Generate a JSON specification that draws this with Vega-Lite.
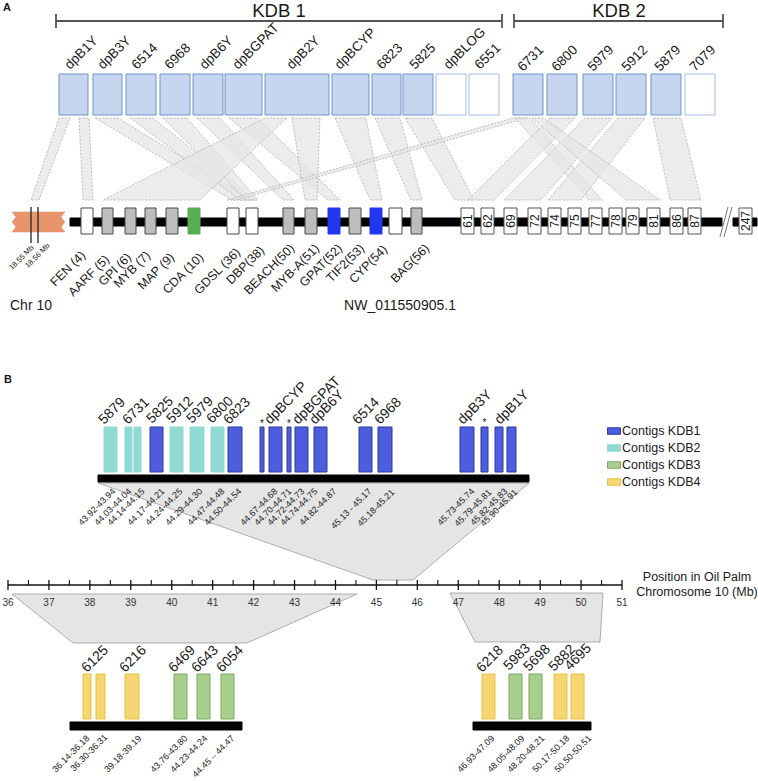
{
  "$schema": "https://vega.github.io/schema/vega-lite/v6.json",
  "width": 758,
  "height": 783,
  "autosize": {"type": "none"},
  "padding": 0,
  "background": "white",
  "config": {
    "view": {"stroke": null},
    "text": {"font": "Liberation Sans", "color": "#1a1a1a"}
  },
  "resolve": {"scale": {"x": "independent", "fill": "independent", "stroke": "independent", "strokeWidth": "independent"}},
  "datasets": {
    "bands": [
      {"band": "r1", "panel": "A", "y": 118, "xl": 59, "xr": 70}, {"band": "r1", "panel": "A", "y": 200, "xl": 31, "xr": 39},
      {"band": "r2", "panel": "A", "y": 118, "xl": 79, "xr": 89}, {"band": "r2", "panel": "A", "y": 200, "xl": 83, "xr": 93},
      {"band": "r3", "panel": "A", "y": 118, "xl": 95, "xr": 118}, {"band": "r3", "panel": "A", "y": 200, "xl": 232, "xr": 252},
      {"band": "r4", "panel": "A", "y": 118, "xl": 130, "xr": 153}, {"band": "r4", "panel": "A", "y": 200, "xl": 240, "xr": 256},
      {"band": "r5", "panel": "A", "y": 118, "xl": 163, "xr": 187}, {"band": "r5", "panel": "A", "y": 200, "xl": 246, "xr": 258},
      {"band": "r6", "panel": "A", "y": 118, "xl": 197, "xr": 220}, {"band": "r6", "panel": "A", "y": 200, "xl": 283, "xr": 294},
      {"band": "r7", "panel": "A", "y": 118, "xl": 229, "xr": 258}, {"band": "r7", "panel": "A", "y": 200, "xl": 328, "xr": 340},
      {"band": "r8", "panel": "A", "y": 118, "xl": 265, "xr": 287}, {"band": "r8", "panel": "A", "y": 200, "xl": 103, "xr": 200},
      {"band": "r9", "panel": "A", "y": 118, "xl": 292, "xr": 320}, {"band": "r9", "panel": "A", "y": 200, "xl": 305, "xr": 317},
      {"band": "r10", "panel": "A", "y": 118, "xl": 335, "xr": 366}, {"band": "r10", "panel": "A", "y": 200, "xl": 370, "xr": 382},
      {"band": "r11", "panel": "A", "y": 118, "xl": 375, "xr": 400}, {"band": "r11", "panel": "A", "y": 200, "xl": 411, "xr": 422},
      {"band": "r12", "panel": "A", "y": 118, "xl": 405, "xr": 432}, {"band": "r12", "panel": "A", "y": 200, "xl": 455, "xr": 474},
      {"band": "r13", "panel": "A", "y": 118, "xl": 513, "xr": 527}, {"band": "r13", "panel": "A", "y": 200, "xl": 227, "xr": 236},
      {"band": "r14", "panel": "A", "y": 118, "xl": 515, "xr": 530}, {"band": "r14", "panel": "A", "y": 200, "xl": 589, "xr": 602},
      {"band": "r15", "panel": "A", "y": 118, "xl": 550, "xr": 575}, {"band": "r15", "panel": "A", "y": 200, "xl": 468, "xr": 494},
      {"band": "r16", "panel": "A", "y": 118, "xl": 585, "xr": 612}, {"band": "r16", "panel": "A", "y": 200, "xl": 504, "xr": 541},
      {"band": "r17", "panel": "A", "y": 118, "xl": 618, "xr": 645}, {"band": "r17", "panel": "A", "y": 200, "xl": 548, "xr": 581},
      {"band": "r18", "panel": "A", "y": 118, "xl": 532, "xr": 543}, {"band": "r18", "panel": "A", "y": 200, "xl": 626, "xr": 660},
      {"band": "r19", "panel": "A", "y": 118, "xl": 653, "xr": 681}, {"band": "r19", "panel": "A", "y": 200, "xl": 670, "xr": 701},
      {"band": "t1", "panel": "B", "y": 483, "xl": 98, "xr": 529}, {"band": "t1", "panel": "B", "y": 580, "xl": 373, "xr": 413},
      {"band": "t2", "panel": "B", "y": 594, "xl": 12, "xr": 357}, {"band": "t2", "panel": "B", "y": 643, "xl": 73, "xr": 247},
      {"band": "t3", "panel": "B", "y": 593, "xl": 450, "xr": 603}, {"band": "t3", "panel": "B", "y": 642, "xl": 475, "xr": 600},
      {"band": "chr10", "panel": "chr", "y": 212, "xl": 12, "xr": 65},
      {"band": "chr10", "panel": "chr", "y": 217, "xl": 16, "xr": 61},
      {"band": "chr10", "panel": "chr", "y": 222, "xl": 12, "xr": 65},
      {"band": "chr10", "panel": "chr", "y": 227, "xl": 16, "xr": 61},
      {"band": "chr10", "panel": "chr", "y": 232, "xl": 12, "xr": 65}
    ],
    "boxes": [
      {"name": "dpB1Y", "kind": "contigA", "x": 59, "x2": 88, "y": 74, "y2": 115},
      {"name": "dpB3Y", "kind": "contigA", "x": 93, "x2": 122, "y": 74, "y2": 115},
      {"name": "6514", "kind": "contigA", "x": 126, "x2": 156, "y": 74, "y2": 115},
      {"name": "6968", "kind": "contigA", "x": 160, "x2": 190, "y": 74, "y2": 115},
      {"name": "dpB6Y", "kind": "contigA", "x": 193, "x2": 223, "y": 74, "y2": 115},
      {"name": "dpBGPAT", "kind": "contigA", "x": 225, "x2": 262, "y": 74, "y2": 115},
      {"name": "dpB2Y", "kind": "contigA", "x": 265, "x2": 329, "y": 74, "y2": 115},
      {"name": "dpBCYP", "kind": "contigA", "x": 332, "x2": 369, "y": 74, "y2": 115},
      {"name": "6823", "kind": "contigA", "x": 372, "x2": 401, "y": 74, "y2": 115},
      {"name": "5825", "kind": "contigA", "x": 403, "x2": 433, "y": 74, "y2": 115},
      {"name": "dpBLOG", "kind": "contigAnone", "x": 436, "x2": 466, "y": 74, "y2": 115},
      {"name": "6551", "kind": "contigAnone", "x": 469, "x2": 499, "y": 74, "y2": 115},
      {"name": "6731", "kind": "contigA", "x": 513, "x2": 543, "y": 74, "y2": 115},
      {"name": "6800", "kind": "contigA", "x": 547, "x2": 577, "y": 74, "y2": 115},
      {"name": "5979", "kind": "contigA", "x": 583, "x2": 613, "y": 74, "y2": 115},
      {"name": "5912", "kind": "contigA", "x": 616, "x2": 646, "y": 74, "y2": 115},
      {"name": "5879", "kind": "contigA", "x": 651, "x2": 681, "y": 74, "y2": 115},
      {"name": "7079", "kind": "contigAnone", "x": 685, "x2": 715, "y": 74, "y2": 115},
      {"name": "NW_011550905.1", "kind": "bar", "x": 70, "x2": 722, "y": 218, "y2": 226},
      {"name": "NW_011550905.1 end", "kind": "bar", "x": 733, "x2": 757, "y": 218, "y2": 226},
      {"name": "FEN", "kind": "geneWhite", "x": 81, "x2": 93, "y": 208, "y2": 234},
      {"name": "AARF", "kind": "geneGray", "x": 102, "x2": 113, "y": 208, "y2": 234},
      {"name": "GPI", "kind": "geneGray", "x": 125, "x2": 136, "y": 208, "y2": 234},
      {"name": "MYB", "kind": "geneGray", "x": 145, "x2": 156, "y": 208, "y2": 234},
      {"name": "MAP", "kind": "geneGray", "x": 166, "x2": 178, "y": 208, "y2": 234},
      {"name": "CDA", "kind": "geneGreen", "x": 188, "x2": 200, "y": 208, "y2": 234},
      {"name": "GDSL", "kind": "geneWhite", "x": 227, "x2": 239, "y": 208, "y2": 234},
      {"name": "DBP", "kind": "geneWhite", "x": 246, "x2": 258, "y": 208, "y2": 234},
      {"name": "BEACH", "kind": "geneGray", "x": 283, "x2": 294, "y": 208, "y2": 234},
      {"name": "MYB-A", "kind": "geneGray", "x": 305, "x2": 317, "y": 208, "y2": 234},
      {"name": "GPAT", "kind": "geneBlue", "x": 328, "x2": 340, "y": 208, "y2": 234},
      {"name": "TIF2", "kind": "geneGray", "x": 349, "x2": 361, "y": 208, "y2": 234},
      {"name": "CYP", "kind": "geneBlue", "x": 370, "x2": 382, "y": 208, "y2": 234},
      {"name": "55", "kind": "geneWhite", "x": 389, "x2": 402, "y": 208, "y2": 234},
      {"name": "BAG", "kind": "geneGray", "x": 411, "x2": 422, "y": 208, "y2": 234},
      {"name": "61", "kind": "geneNum", "x": 461, "x2": 474, "y": 208, "y2": 234},
      {"name": "62", "kind": "geneNum", "x": 481, "x2": 494, "y": 208, "y2": 234},
      {"name": "69", "kind": "geneNum", "x": 504, "x2": 517, "y": 208, "y2": 234},
      {"name": "72", "kind": "geneNum", "x": 528, "x2": 541, "y": 208, "y2": 234},
      {"name": "74", "kind": "geneNum", "x": 548, "x2": 561, "y": 208, "y2": 234},
      {"name": "75", "kind": "geneNum", "x": 568, "x2": 581, "y": 208, "y2": 234},
      {"name": "77", "kind": "geneNum", "x": 589, "x2": 602, "y": 208, "y2": 234},
      {"name": "78", "kind": "geneNum", "x": 609, "x2": 622, "y": 208, "y2": 234},
      {"name": "79", "kind": "geneNum", "x": 626, "x2": 639, "y": 208, "y2": 234},
      {"name": "81", "kind": "geneNum", "x": 647, "x2": 660, "y": 208, "y2": 234},
      {"name": "86", "kind": "geneNum", "x": 670, "x2": 683, "y": 208, "y2": 234},
      {"name": "87", "kind": "geneNum", "x": 688, "x2": 701, "y": 208, "y2": 234},
      {"name": "247", "kind": "geneNum", "x": 739, "x2": 752, "y": 208, "y2": 234},
      {"name": "B top", "kind": "bar", "x": 98, "x2": 529, "y": 475, "y2": 482},
      {"name": "B left", "kind": "bar", "x": 70, "x2": 242, "y": 722, "y2": 730},
      {"name": "B right", "kind": "bar", "x": 473, "x2": 591, "y": 722, "y2": 730}
    ],
    "contigsB": [
      {"contig": "5879", "kdb": "Contigs KDB2", "x": 104, "x2": 117, "y": 427, "y2": 472},
      {"contig": "6731", "kdb": "Contigs KDB2", "x": 125, "x2": 132, "y": 427, "y2": 472},
      {"contig": "6731", "kdb": "Contigs KDB2", "x": 134, "x2": 141, "y": 427, "y2": 472},
      {"contig": "5825", "kdb": "Contigs KDB1", "x": 150, "x2": 163, "y": 427, "y2": 472},
      {"contig": "5912", "kdb": "Contigs KDB2", "x": 170, "x2": 183, "y": 427, "y2": 472},
      {"contig": "5979", "kdb": "Contigs KDB2", "x": 190, "x2": 204, "y": 427, "y2": 472},
      {"contig": "6800", "kdb": "Contigs KDB2", "x": 211, "x2": 224, "y": 427, "y2": 472},
      {"contig": "6823", "kdb": "Contigs KDB1", "x": 228, "x2": 242, "y": 427, "y2": 472},
      {"contig": "*", "kdb": "Contigs KDB1", "x": 260, "x2": 264, "y": 427, "y2": 472},
      {"contig": "dpBCYP", "kdb": "Contigs KDB1", "x": 269, "x2": 282, "y": 427, "y2": 472},
      {"contig": "*", "kdb": "Contigs KDB1", "x": 287, "x2": 291, "y": 427, "y2": 472},
      {"contig": "dpBGPAT", "kdb": "Contigs KDB1", "x": 295, "x2": 308, "y": 427, "y2": 472},
      {"contig": "dpB6Y", "kdb": "Contigs KDB1", "x": 314, "x2": 327, "y": 427, "y2": 472},
      {"contig": "6514", "kdb": "Contigs KDB1", "x": 359, "x2": 372, "y": 427, "y2": 472},
      {"contig": "6968", "kdb": "Contigs KDB1", "x": 378, "x2": 392, "y": 427, "y2": 472},
      {"contig": "dpB3Y", "kdb": "Contigs KDB1", "x": 460, "x2": 474, "y": 427, "y2": 472},
      {"contig": "*", "kdb": "Contigs KDB1", "x": 481, "x2": 488, "y": 427, "y2": 472},
      {"contig": "dpB1Y", "kdb": "Contigs KDB1", "x": 495, "x2": 503, "y": 427, "y2": 472},
      {"contig": "dpB1Y", "kdb": "Contigs KDB1", "x": 507, "x2": 516, "y": 427, "y2": 472},
      {"contig": "6125", "kdb": "Contigs KDB4", "x": 83, "x2": 91, "y": 674, "y2": 719},
      {"contig": "6125", "kdb": "Contigs KDB4", "x": 96, "x2": 105, "y": 674, "y2": 719},
      {"contig": "6216", "kdb": "Contigs KDB4", "x": 125, "x2": 139, "y": 674, "y2": 719},
      {"contig": "6469", "kdb": "Contigs KDB3", "x": 174, "x2": 187, "y": 674, "y2": 719},
      {"contig": "6643", "kdb": "Contigs KDB3", "x": 197, "x2": 210, "y": 674, "y2": 719},
      {"contig": "6054", "kdb": "Contigs KDB3", "x": 221, "x2": 234, "y": 674, "y2": 719},
      {"contig": "6218", "kdb": "Contigs KDB4", "x": 482, "x2": 495, "y": 674, "y2": 719},
      {"contig": "5983", "kdb": "Contigs KDB3", "x": 509, "x2": 522, "y": 674, "y2": 719},
      {"contig": "5698", "kdb": "Contigs KDB3", "x": 529, "x2": 542, "y": 674, "y2": 719},
      {"contig": "5882", "kdb": "Contigs KDB4", "x": 554, "x2": 567, "y": 674, "y2": 719},
      {"contig": "4695", "kdb": "Contigs KDB4", "x": 571, "x2": 584, "y": 674, "y2": 719}
    ],
    "rules": [
      {"role": "bracket", "x": 56, "y": 21, "x2": 502, "y2": 21},
      {"role": "bracket", "x": 56, "y": 14, "x2": 56, "y2": 28},
      {"role": "bracket", "x": 502, "y": 14, "x2": 502, "y2": 28},
      {"role": "bracket", "x": 514, "y": 21, "x2": 723, "y2": 21},
      {"role": "bracket", "x": 514, "y": 14, "x2": 514, "y2": 28},
      {"role": "bracket", "x": 723, "y": 14, "x2": 723, "y2": 28},
      {"role": "marker", "x": 31, "y": 207, "x2": 31, "y2": 243},
      {"role": "marker", "x": 38, "y": 207, "x2": 38, "y2": 243},
      {"role": "break", "x": 720, "y": 237, "x2": 728, "y2": 207},
      {"role": "break", "x": 724, "y": 237, "x2": 732, "y2": 207}
    ],
    "ticks": [
      {"mb": 36, "major": true}, {"mb": 37, "major": true}, {"mb": 38, "major": true}, {"mb": 39, "major": true},
      {"mb": 40, "major": true}, {"mb": 41, "major": true}, {"mb": 42, "major": true}, {"mb": 43, "major": true},
      {"mb": 44, "major": true}, {"mb": 45, "major": true}, {"mb": 46, "major": true}, {"mb": 47, "major": true},
      {"mb": 48, "major": true}, {"mb": 49, "major": true}, {"mb": 50, "major": true}, {"mb": 51, "major": true},
      {"mb": 36.5, "major": false}, {"mb": 37.5, "major": false}, {"mb": 38.5, "major": false}, {"mb": 39.5, "major": false},
      {"mb": 40.5, "major": false}, {"mb": 41.5, "major": false}, {"mb": 42.5, "major": false}, {"mb": 43.5, "major": false},
      {"mb": 44.5, "major": false}, {"mb": 45.5, "major": false}, {"mb": 46.5, "major": false}, {"mb": 47.5, "major": false},
      {"mb": 48.5, "major": false}, {"mb": 49.5, "major": false}, {"mb": 50.5, "major": false}
    ],
    "labels": [
      {"role": "kdb", "text": "KDB 1", "x": 279, "y": 17},
      {"role": "kdb", "text": "KDB 2", "x": 619, "y": 17},
      {"role": "panel", "text": "A", "x": 3, "y": 11},
      {"role": "panel", "text": "B", "x": 4, "y": 383},
      {"role": "contigA", "text": "dpB1Y", "x": 70, "y": 70},
      {"role": "contigA", "text": "dpB3Y", "x": 103, "y": 70},
      {"role": "contigA", "text": "6514", "x": 137, "y": 70},
      {"role": "contigA", "text": "6968", "x": 170, "y": 70},
      {"role": "contigA", "text": "dpB6Y", "x": 205, "y": 70},
      {"role": "contigA", "text": "dpBGPAT", "x": 238, "y": 70},
      {"role": "contigA", "text": "dpB2Y", "x": 292, "y": 70},
      {"role": "contigA", "text": "dpBCYP", "x": 340, "y": 70},
      {"role": "contigA", "text": "6823", "x": 382, "y": 70},
      {"role": "contigA", "text": "5825", "x": 415, "y": 70},
      {"role": "contigA", "text": "dpBLOG", "x": 449, "y": 70},
      {"role": "contigA", "text": "6551", "x": 480, "y": 70},
      {"role": "contigA", "text": "6731", "x": 523, "y": 72},
      {"role": "contigA", "text": "6800", "x": 557, "y": 72},
      {"role": "contigA", "text": "5979", "x": 593, "y": 72},
      {"role": "contigA", "text": "5912", "x": 627, "y": 72},
      {"role": "contigA", "text": "5879", "x": 660, "y": 72},
      {"role": "contigA", "text": "7079", "x": 695, "y": 72},
      {"role": "geneA", "text": "FEN (4)", "x": 79, "y": 249},
      {"role": "geneA", "text": "AARF (5)", "x": 103, "y": 253},
      {"role": "geneA", "text": "GPI (6)", "x": 125, "y": 251},
      {"role": "geneA", "text": "MYB (7)", "x": 144, "y": 249},
      {"role": "geneA", "text": "MAP (9)", "x": 168, "y": 251},
      {"role": "geneA", "text": "CDA (10)", "x": 197, "y": 251},
      {"role": "geneA", "text": "GDSL (36)", "x": 234, "y": 246},
      {"role": "geneA", "text": "DBP(38)", "x": 258, "y": 244},
      {"role": "geneA", "text": "BEACH(50)", "x": 288, "y": 242},
      {"role": "geneA", "text": "MYB-A(51)", "x": 313, "y": 242},
      {"role": "geneA", "text": "GPAT(52)", "x": 336, "y": 242},
      {"role": "geneA", "text": "TIF2(53)", "x": 358, "y": 242},
      {"role": "geneA", "text": "CYP(54)", "x": 381, "y": 243},
      {"role": "geneA", "text": "BAG(56)", "x": 423, "y": 242},
      {"role": "geneNum", "text": "61", "x": 467.5, "y": 221},
      {"role": "geneNum", "text": "62", "x": 487.5, "y": 221},
      {"role": "geneNum", "text": "69", "x": 510.5, "y": 221},
      {"role": "geneNum", "text": "72", "x": 534.5, "y": 221},
      {"role": "geneNum", "text": "74", "x": 554.5, "y": 221},
      {"role": "geneNum", "text": "75", "x": 574.5, "y": 221},
      {"role": "geneNum", "text": "77", "x": 595.5, "y": 221},
      {"role": "geneNum", "text": "78", "x": 615.5, "y": 221},
      {"role": "geneNum", "text": "79", "x": 632.5, "y": 221},
      {"role": "geneNum", "text": "81", "x": 653.5, "y": 221},
      {"role": "geneNum", "text": "86", "x": 676.5, "y": 221},
      {"role": "geneNum", "text": "87", "x": 694.5, "y": 221},
      {"role": "geneNum", "text": "247", "x": 745.5, "y": 221},
      {"role": "mb", "text": "18.55 Mb", "x": 30, "y": 244},
      {"role": "mb", "text": "18.56 Mb", "x": 46, "y": 242},
      {"role": "chrLeft", "text": "Chr 10", "x": 10, "y": 310},
      {"role": "chrCenter", "text": "NW_011550905.1", "x": 400, "y": 310},
      {"role": "contigB", "text": "5879", "x": 104, "y": 425},
      {"role": "contigB", "text": "6731", "x": 128, "y": 425},
      {"role": "contigB", "text": "5825", "x": 152, "y": 424},
      {"role": "contigB", "text": "5912", "x": 172, "y": 424},
      {"role": "contigB", "text": "5979", "x": 192, "y": 424},
      {"role": "contigB", "text": "6800", "x": 212, "y": 424},
      {"role": "contigB", "text": "6823", "x": 229, "y": 425},
      {"role": "contigB", "text": "dpBCYP", "x": 270, "y": 425},
      {"role": "contigB", "text": "dpBGPAT", "x": 298, "y": 425},
      {"role": "contigB", "text": "dpB6Y", "x": 315, "y": 425},
      {"role": "contigB", "text": "6514", "x": 358, "y": 425},
      {"role": "contigB", "text": "6968", "x": 380, "y": 425},
      {"role": "contigB", "text": "dpB3Y", "x": 463, "y": 425},
      {"role": "contigB", "text": "dpB1Y", "x": 500, "y": 425},
      {"role": "contigB", "text": "6125", "x": 87, "y": 673},
      {"role": "contigB", "text": "6216", "x": 125, "y": 673},
      {"role": "contigB", "text": "6469", "x": 174, "y": 673},
      {"role": "contigB", "text": "6643", "x": 197, "y": 673},
      {"role": "contigB", "text": "6054", "x": 222, "y": 673},
      {"role": "contigB", "text": "6218", "x": 482, "y": 673},
      {"role": "contigB", "text": "5983", "x": 509, "y": 671},
      {"role": "contigB", "text": "5698", "x": 529, "y": 672},
      {"role": "contigB", "text": "5882", "x": 554, "y": 672},
      {"role": "contigB", "text": "4695", "x": 570, "y": 671},
      {"role": "rangeB", "text": "43.92-43.94", "x": 111, "y": 487},
      {"role": "rangeB", "text": "44.03-44.04", "x": 127, "y": 487},
      {"role": "rangeB", "text": "44.14-44.15", "x": 140, "y": 487},
      {"role": "rangeB", "text": "44.17-44.21", "x": 160, "y": 487},
      {"role": "rangeB", "text": "44.24-44.25", "x": 178, "y": 487},
      {"role": "rangeB", "text": "44.29-44.30", "x": 198, "y": 487},
      {"role": "rangeB", "text": "44.47-44.48", "x": 220, "y": 487},
      {"role": "rangeB", "text": "44.50-44.54", "x": 237, "y": 487},
      {"role": "rangeB", "text": "44.67-44.68", "x": 273, "y": 487},
      {"role": "rangeB", "text": "44.70-44.71", "x": 287, "y": 487},
      {"role": "rangeB", "text": "44.72-44.73", "x": 300, "y": 487},
      {"role": "rangeB", "text": "44.74-44.75", "x": 313, "y": 487},
      {"role": "rangeB", "text": "44.82-44.87", "x": 332, "y": 487},
      {"role": "rangeB", "text": "45.13 - 45.17", "x": 367, "y": 487},
      {"role": "rangeB", "text": "45.18-45.21", "x": 390, "y": 488},
      {"role": "rangeB", "text": "45.73-45.74", "x": 470, "y": 487},
      {"role": "rangeB", "text": "45.79-45.81", "x": 487, "y": 488},
      {"role": "rangeB", "text": "45.82-45.83", "x": 503, "y": 487},
      {"role": "rangeB", "text": "45.90-45.91", "x": 513, "y": 488},
      {"role": "rangeB", "text": "36.14-36.18", "x": 85, "y": 734},
      {"role": "rangeB", "text": "36.30-36.31", "x": 103, "y": 733},
      {"role": "rangeB", "text": "39.18-39.19", "x": 137, "y": 734},
      {"role": "rangeB", "text": "43.76-43.80", "x": 183, "y": 734},
      {"role": "rangeB", "text": "44.23-44.24", "x": 203, "y": 734},
      {"role": "rangeB", "text": "44.45 – 44.47", "x": 230, "y": 734},
      {"role": "rangeB", "text": "46.93-47.09", "x": 490, "y": 734},
      {"role": "rangeB", "text": "48.05-48.09", "x": 520, "y": 734},
      {"role": "rangeB", "text": "48.20-48.21", "x": 540, "y": 734},
      {"role": "rangeB", "text": "50.17-50.18", "x": 565, "y": 734},
      {"role": "rangeB", "text": "50.50-50.51", "x": 587, "y": 734},
      {"role": "star", "text": "*", "x": 262, "y": 424},
      {"role": "star", "text": "*", "x": 289, "y": 424},
      {"role": "star", "text": "*", "x": 484.5, "y": 423},
      {"role": "axisTitle", "text": "Position in Oil Palm", "x": 697, "y": 577},
      {"role": "axisTitle", "text": "Chromosome 10 (Mb)", "x": 697, "y": 592}
    ]
  },
  "layer": [
    {
      "data": {"name": "bands"},
      "transform": [{"filter": "datum.panel == 'A'"}],
      "mark": {"type": "area", "orient": "horizontal", "fill": "#e6e6e6", "fillOpacity": 0.75, "stroke": "#a6a6a6", "strokeWidth": 0.7, "strokeDash": [2, 1.5]},
      "encoding": {
        "y": {"field": "y", "type": "quantitative", "scale": {"domain": [0, 783], "nice": false, "zero": false, "reverse": true}, "axis": null},
        "x": {"field": "xl", "type": "quantitative", "scale": {"domain": [0, 758], "nice": false, "zero": false}, "axis": null, "stack": null},
        "x2": {"field": "xr"},
        "detail": {"field": "band", "type": "nominal"}
      }
    },
    {
      "data": {"name": "bands"},
      "transform": [{"filter": "datum.panel == 'B'"}],
      "mark": {"type": "area", "orient": "horizontal", "fill": "#e5e5e5", "stroke": "#9c9c9c", "strokeWidth": 0.8},
      "encoding": {
        "y": {"field": "y", "type": "quantitative", "scale": {"domain": [0, 783], "nice": false, "zero": false, "reverse": true}, "axis": null},
        "x": {"field": "xl", "type": "quantitative", "scale": {"domain": [0, 758], "nice": false, "zero": false}, "axis": null, "stack": null},
        "x2": {"field": "xr"},
        "detail": {"field": "band", "type": "nominal"}
      }
    },
    {
      "data": {"name": "bands"},
      "transform": [{"filter": "datum.panel == 'chr'"}],
      "mark": {"type": "area", "orient": "horizontal", "fill": "#e8956b", "stroke": "#e08a60", "strokeWidth": 0.5},
      "encoding": {
        "y": {"field": "y", "type": "quantitative", "scale": {"domain": [0, 783], "nice": false, "zero": false, "reverse": true}, "axis": null},
        "x": {"field": "xl", "type": "quantitative", "scale": {"domain": [0, 758], "nice": false, "zero": false}, "axis": null, "stack": null},
        "x2": {"field": "xr"},
        "detail": {"field": "band", "type": "nominal"}
      }
    },
    {
      "data": {"name": "boxes"},
      "mark": {"type": "rect", "strokeWidth": 1},
      "encoding": {
        "x": {"field": "x", "type": "quantitative", "scale": {"domain": [0, 758], "nice": false, "zero": false}, "axis": null},
        "x2": {"field": "x2"},
        "y": {"field": "y", "type": "quantitative", "scale": {"domain": [0, 783], "nice": false, "zero": false, "reverse": true}, "axis": null},
        "y2": {"field": "y2"},
        "fill": {"field": "kind", "type": "nominal", "legend": null,
          "scale": {"domain": ["contigA", "contigAnone", "bar", "geneGray", "geneWhite", "geneGreen", "geneBlue", "geneNum"],
                    "range": ["#c6d6ef", "#ffffff", "#000000", "#bdbdbd", "#ffffff", "#5aae52", "#2136ee", "#ffffff"]}},
        "stroke": {"field": "kind", "type": "nominal", "legend": null,
          "scale": {"domain": ["contigA", "contigAnone", "bar", "geneGray", "geneWhite", "geneGreen", "geneBlue", "geneNum"],
                    "range": ["#7093cd", "#a3bbe4", "#000000", "#4a4a4a", "#4a4a4a", "#5aae52", "#2136ee", "#555555"]}}
      }
    },
    {
      "data": {"name": "contigsB"},
      "mark": {"type": "rect", "strokeWidth": 1},
      "encoding": {
        "x": {"field": "x", "type": "quantitative", "scale": {"domain": [0, 758], "nice": false, "zero": false}, "axis": null},
        "x2": {"field": "x2"},
        "y": {"field": "y", "type": "quantitative", "scale": {"domain": [0, 783], "nice": false, "zero": false, "reverse": true}, "axis": null},
        "y2": {"field": "y2"},
        "fill": {"field": "kdb", "type": "nominal",
          "scale": {"domain": ["Contigs KDB1", "Contigs KDB2", "Contigs KDB3", "Contigs KDB4"], "range": ["#4d5ddd", "#91dad2", "#a9cf8f", "#f5d672"]},
          "legend": {"orient": "none", "legendX": 607, "legendY": 424, "title": null, "symbolType": "M-1,-0.5H1V0.5H-1Z", "symbolSize": 169,
                     "labelFontSize": 12.5, "labelFont": "Liberation Sans", "labelColor": "#1a1a1a", "rowPadding": 3, "labelOffset": 1, "padding": 0, "symbolStrokeWidth": 1}},
        "stroke": {"field": "kdb", "type": "nominal",
          "scale": {"domain": ["Contigs KDB1", "Contigs KDB2", "Contigs KDB3", "Contigs KDB4"], "range": ["#2c3a9c", "#91dad2", "#7ba95c", "#e8c244"]},
          "legend": {"orient": "none", "legendX": 607, "legendY": 424, "title": null, "symbolType": "M-1,-0.5H1V0.5H-1Z", "symbolSize": 169,
                     "labelFontSize": 12.5, "labelFont": "Liberation Sans", "labelColor": "#1a1a1a", "rowPadding": 3, "labelOffset": 1, "padding": 0, "symbolStrokeWidth": 1}}
      }
    },
    {
      "data": {"name": "rules"},
      "mark": {"type": "rule"},
      "encoding": {
        "x": {"field": "x", "type": "quantitative", "scale": {"domain": [0, 758], "nice": false, "zero": false}, "axis": null},
        "x2": {"field": "x2"},
        "y": {"field": "y", "type": "quantitative", "scale": {"domain": [0, 783], "nice": false, "zero": false, "reverse": true}, "axis": null},
        "y2": {"field": "y2"},
        "stroke": {"field": "role", "type": "nominal", "legend": null, "scale": {"domain": ["bracket", "marker", "break"], "range": ["#555555", "#333333", "#777777"]}},
        "strokeWidth": {"field": "role", "type": "nominal", "legend": null, "scale": {"domain": ["bracket", "marker", "break"], "range": [1.8, 1, 1]}}
      }
    },
    {
      "data": {"values": [{"mb": 36, "mb2": 51}]},
      "mark": {"type": "rule", "stroke": "#111111", "strokeWidth": 1.4},
      "encoding": {
        "x": {"field": "mb", "type": "quantitative", "scale": {"domain": [36, 51], "range": [8, 622], "nice": false, "zero": false}, "axis": null},
        "x2": {"field": "mb2"},
        "y": {"datum": 585, "type": "quantitative", "scale": {"domain": [0, 783], "nice": false, "zero": false, "reverse": true}, "axis": null}
      }
    },
    {
      "data": {"name": "ticks"},
      "transform": [{"filter": "datum.major"}],
      "mark": {"type": "rule", "stroke": "#111111", "strokeWidth": 1.3},
      "encoding": {
        "x": {"field": "mb", "type": "quantitative", "scale": {"domain": [36, 51], "range": [8, 622], "nice": false, "zero": false}, "axis": null},
        "y": {"datum": 580, "type": "quantitative", "scale": {"domain": [0, 783], "nice": false, "zero": false, "reverse": true}, "axis": null},
        "y2": {"datum": 590}
      }
    },
    {
      "data": {"name": "ticks"},
      "transform": [{"filter": "!datum.major"}],
      "mark": {"type": "rule", "stroke": "#111111", "strokeWidth": 1.1},
      "encoding": {
        "x": {"field": "mb", "type": "quantitative", "scale": {"domain": [36, 51], "range": [8, 622], "nice": false, "zero": false}, "axis": null},
        "y": {"datum": 580, "type": "quantitative", "scale": {"domain": [0, 783], "nice": false, "zero": false, "reverse": true}, "axis": null},
        "y2": {"datum": 585}
      }
    },
    {
      "data": {"name": "ticks"},
      "transform": [{"filter": "datum.major"}],
      "mark": {"type": "text", "fontSize": 10, "align": "center", "baseline": "middle", "color": "#333333"},
      "encoding": {
        "x": {"field": "mb", "type": "quantitative", "scale": {"domain": [36, 51], "range": [8, 622], "nice": false, "zero": false}, "axis": null},
        "y": {"datum": 603, "type": "quantitative", "scale": {"domain": [0, 783], "nice": false, "zero": false, "reverse": true}, "axis": null},
        "text": {"field": "mb", "type": "quantitative"}
      }
    },
    {
      "data": {"name": "labels"},
      "transform": [{"filter": "datum.role == 'kdb'"}],
      "mark": {"type": "text", "fontSize": 18.5, "align": "center", "baseline": "alphabetic"},
      "encoding": {
        "x": {"field": "x", "type": "quantitative", "scale": {"domain": [0, 758], "nice": false, "zero": false}, "axis": null},
        "y": {"field": "y", "type": "quantitative", "scale": {"domain": [0, 783], "nice": false, "zero": false, "reverse": true}, "axis": null},
        "text": {"field": "text"}
      }
    },
    {
      "data": {"name": "labels"},
      "transform": [{"filter": "datum.role == 'panel'"}],
      "mark": {"type": "text", "fontSize": 11, "fontWeight": "bold", "align": "left", "baseline": "alphabetic"},
      "encoding": {
        "x": {"field": "x", "type": "quantitative", "scale": {"domain": [0, 758], "nice": false, "zero": false}, "axis": null},
        "y": {"field": "y", "type": "quantitative", "scale": {"domain": [0, 783], "nice": false, "zero": false, "reverse": true}, "axis": null},
        "text": {"field": "text"}
      }
    },
    {
      "data": {"name": "labels"},
      "transform": [{"filter": "datum.role == 'contigA'"}],
      "mark": {"type": "text", "fontSize": 13.5, "angle": -45, "align": "left", "baseline": "alphabetic"},
      "encoding": {
        "x": {"field": "x", "type": "quantitative", "scale": {"domain": [0, 758], "nice": false, "zero": false}, "axis": null},
        "y": {"field": "y", "type": "quantitative", "scale": {"domain": [0, 783], "nice": false, "zero": false, "reverse": true}, "axis": null},
        "text": {"field": "text"}
      }
    },
    {
      "data": {"name": "labels"},
      "transform": [{"filter": "datum.role == 'geneA'"}],
      "mark": {"type": "text", "fontSize": 12.5, "angle": -45, "align": "right", "baseline": "top"},
      "encoding": {
        "x": {"field": "x", "type": "quantitative", "scale": {"domain": [0, 758], "nice": false, "zero": false}, "axis": null},
        "y": {"field": "y", "type": "quantitative", "scale": {"domain": [0, 783], "nice": false, "zero": false, "reverse": true}, "axis": null},
        "text": {"field": "text"}
      }
    },
    {
      "data": {"name": "labels"},
      "transform": [{"filter": "datum.role == 'geneNum'"}],
      "mark": {"type": "text", "fontSize": 12, "angle": -90, "align": "center", "baseline": "middle"},
      "encoding": {
        "x": {"field": "x", "type": "quantitative", "scale": {"domain": [0, 758], "nice": false, "zero": false}, "axis": null},
        "y": {"field": "y", "type": "quantitative", "scale": {"domain": [0, 783], "nice": false, "zero": false, "reverse": true}, "axis": null},
        "text": {"field": "text"}
      }
    },
    {
      "data": {"name": "labels"},
      "transform": [{"filter": "datum.role == 'mb'"}],
      "mark": {"type": "text", "fontSize": 7.5, "angle": -45, "align": "right", "baseline": "top"},
      "encoding": {
        "x": {"field": "x", "type": "quantitative", "scale": {"domain": [0, 758], "nice": false, "zero": false}, "axis": null},
        "y": {"field": "y", "type": "quantitative", "scale": {"domain": [0, 783], "nice": false, "zero": false, "reverse": true}, "axis": null},
        "text": {"field": "text"}
      }
    },
    {
      "data": {"name": "labels"},
      "transform": [{"filter": "datum.role == 'chrLeft'"}],
      "mark": {"type": "text", "fontSize": 14, "align": "left", "baseline": "alphabetic"},
      "encoding": {
        "x": {"field": "x", "type": "quantitative", "scale": {"domain": [0, 758], "nice": false, "zero": false}, "axis": null},
        "y": {"field": "y", "type": "quantitative", "scale": {"domain": [0, 783], "nice": false, "zero": false, "reverse": true}, "axis": null},
        "text": {"field": "text"}
      }
    },
    {
      "data": {"name": "labels"},
      "transform": [{"filter": "datum.role == 'chrCenter'"}],
      "mark": {"type": "text", "fontSize": 14, "align": "center", "baseline": "alphabetic"},
      "encoding": {
        "x": {"field": "x", "type": "quantitative", "scale": {"domain": [0, 758], "nice": false, "zero": false}, "axis": null},
        "y": {"field": "y", "type": "quantitative", "scale": {"domain": [0, 783], "nice": false, "zero": false, "reverse": true}, "axis": null},
        "text": {"field": "text"}
      }
    },
    {
      "data": {"name": "labels"},
      "transform": [{"filter": "datum.role == 'contigB'"}],
      "mark": {"type": "text", "fontSize": 14, "angle": -45, "align": "left", "baseline": "alphabetic"},
      "encoding": {
        "x": {"field": "x", "type": "quantitative", "scale": {"domain": [0, 758], "nice": false, "zero": false}, "axis": null},
        "y": {"field": "y", "type": "quantitative", "scale": {"domain": [0, 783], "nice": false, "zero": false, "reverse": true}, "axis": null},
        "text": {"field": "text"}
      }
    },
    {
      "data": {"name": "labels"},
      "transform": [{"filter": "datum.role == 'rangeB'"}],
      "mark": {"type": "text", "fontSize": 9, "angle": -45, "align": "right", "baseline": "top"},
      "encoding": {
        "x": {"field": "x", "type": "quantitative", "scale": {"domain": [0, 758], "nice": false, "zero": false}, "axis": null},
        "y": {"field": "y", "type": "quantitative", "scale": {"domain": [0, 783], "nice": false, "zero": false, "reverse": true}, "axis": null},
        "text": {"field": "text"}
      }
    },
    {
      "data": {"name": "labels"},
      "transform": [{"filter": "datum.role == 'star'"}],
      "mark": {"type": "text", "fontSize": 10, "align": "center", "baseline": "middle"},
      "encoding": {
        "x": {"field": "x", "type": "quantitative", "scale": {"domain": [0, 758], "nice": false, "zero": false}, "axis": null},
        "y": {"field": "y", "type": "quantitative", "scale": {"domain": [0, 783], "nice": false, "zero": false, "reverse": true}, "axis": null},
        "text": {"field": "text"}
      }
    },
    {
      "data": {"name": "labels"},
      "transform": [{"filter": "datum.role == 'axisTitle'"}],
      "mark": {"type": "text", "fontSize": 12.5, "align": "center", "baseline": "middle"},
      "encoding": {
        "x": {"field": "x", "type": "quantitative", "scale": {"domain": [0, 758], "nice": false, "zero": false}, "axis": null},
        "y": {"field": "y", "type": "quantitative", "scale": {"domain": [0, 783], "nice": false, "zero": false, "reverse": true}, "axis": null},
        "text": {"field": "text"}
      }
    }
  ]
}
